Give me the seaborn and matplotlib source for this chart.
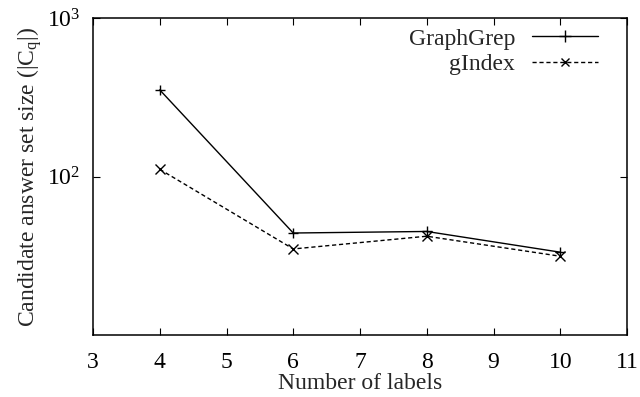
import matplotlib
matplotlib.use("Agg")
import matplotlib.pyplot as plt
import seaborn as sns
import pandas as pd
from matplotlib.ticker import FixedLocator, NullLocator, NullFormatter
from matplotlib.lines import Line2D

labels = [4, 6, 8, 10]
graphgrep = [352, 44.0, 45.0, 33.3]
gindex = [111, 34.9, 42.0, 31.4]

df = pd.concat([
    pd.DataFrame({"labels": labels, "size": graphgrep, "method": "GraphGrep"}),
    pd.DataFrame({"labels": labels, "size": gindex, "method": "gIndex"}),
])

sns.set_style("ticks")
plt.rcParams['font.family'] = ['Liberation Serif', 'DejaVu Serif']
plt.rcParams['mathtext.fontset'] = 'custom'
plt.rcParams['mathtext.rm'] = 'Liberation Serif'
plt.rcParams['mathtext.it'] = 'Liberation Serif'

FS = 17
fig = plt.figure(figsize=(6.4, 3.97), dpi=100)
ax = fig.add_axes([93/640, 1-335/397, (627-93)/640, (335-18)/397])

sns.lineplot(data=df, x="labels", y="size", hue="method", style="method",
             markers={"GraphGrep": "+", "gIndex": "x"},
             dashes={"GraphGrep": "", "gIndex": (3, 2)},
             palette={"GraphGrep": "black", "gIndex": "black"},
             linewidth=1.0, markersize=7, markeredgewidth=1.0,
             markeredgecolor="black",
             ax=ax, legend=False)

ax.set_yscale("log")
ax.set_xlim(3, 11)
ax.set_ylim(10, 1000)
ax.yaxis.set_major_locator(FixedLocator([100, 1000]))
ax.yaxis.set_minor_locator(NullLocator())
ax.yaxis.set_minor_formatter(NullFormatter())
ax.set_yticks([100, 1000])
ax.set_yticklabels([r"$10^2$", r"$10^3$"])
ax.set_xticks(range(3, 12))
ax.tick_params(direction="in", top=True, right=True, length=5, width=0.8,
               labelsize=FS, colors="black")
ax.tick_params(axis="x", pad=12)
ax.tick_params(axis="y", pad=9)
for s in ax.spines.values():
    s.set_visible(True)
    s.set_linewidth(1.1)
    s.set_color("black")

ax.set_xlabel("Number of labels", fontsize=FS, labelpad=0)
ax.set_ylabel(r"Candidate answer set size (|C$_\mathrm{q}$|)", fontsize=FS, labelpad=2)

handles = [
    Line2D([], [], color="black", linewidth=1.0, marker="+", markersize=8),
    Line2D([], [], color="black", linewidth=1.0, linestyle=(0, (3, 2)), marker="x", markersize=6),
]
leg = ax.legend(handles, ["GraphGrep", "gIndex"], loc="upper right",
                bbox_to_anchor=((598-93)/534, (335-28)/317), frameon=False,
                fontsize=FS, markerfirst=False, handlelength=2.8, handletextpad=0.7,
                labelspacing=0.18, borderaxespad=0, borderpad=0)

fig.savefig("out.png", dpi=100)
